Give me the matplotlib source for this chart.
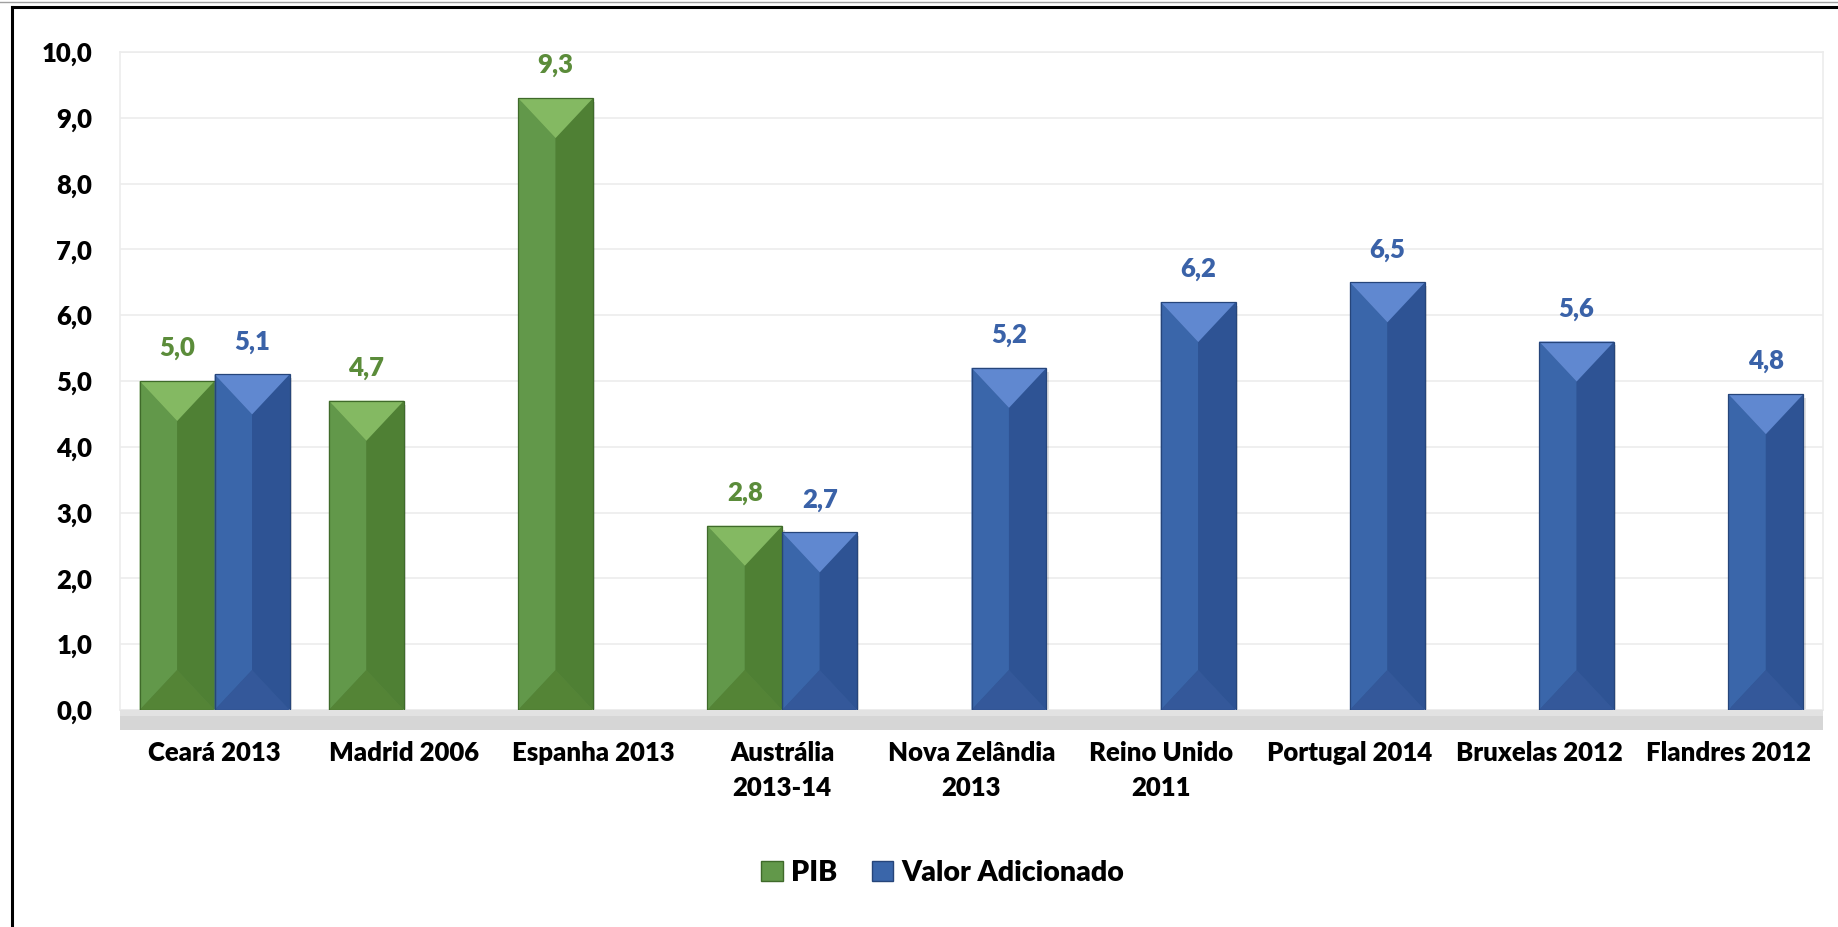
import numpy as np
import matplotlib
matplotlib.use("Agg")
import matplotlib.pyplot as plt
from matplotlib.patches import Polygon, Rectangle, Patch
from matplotlib.lines import Line2D

# dados
regioes = ["Ceará 2013", "Madrid 2006", "Espanha 2013", "Austrália\n2013-14",
           "Nova Zelândia\n2013", "Reino Unido\n2011", "Portugal 2014",
           "Bruxelas 2012", "Flandres 2012"]
pib = [5.0, 4.7, 9.3, 2.8, np.nan, np.nan, np.nan, np.nan, np.nan]
valor_adicionado = [5.1, np.nan, np.nan, 2.7, 5.2, 6.2, 6.5, 5.6, 4.8]
yticks = np.arange(0, 11, 1)

plt.rcParams['font.family'] = ['Lato', 'DejaVu Sans']
plt.rcParams['font.weight'] = 'heavy'
PESO = 'heavy'
TAM = 18.5

W, H = 1838, 927
fig = plt.figure(figsize=(W / 100, H / 100), dpi=100)
ax = fig.add_axes([120 / W, 1 - 710 / H, (1823 - 120) / W, (710 - 52) / H])
ax.set_xlim(-0.5, len(regioes) - 0.5)
ax.set_ylim(0, 10)

# cores: (lado esquerdo, lado direito, triângulo de cima, triângulo de baixo, borda)
verde = ("#62984a", "#4f8034", "#84b962", "#548436", "#3f6a2a")
azul = ("#3a66aa", "#2e5394", "#6088d0", "#34589a", "#26457a")

x = np.arange(len(regioes))
largura = 0.396
px_y = ax.bbox.height / 10.0   # pixels por unidade no eixo y


def chanfro(barras, cores):
    """Desenha o efeito de bisel em cada barra"""
    for b in barras:
        h = b.get_height()
        if not np.isfinite(h):
            continue
        x0 = b.get_x()
        x1 = x0 + b.get_width()
        xm = (x0 + x1) / 2
        d = 40 / px_y
        # sombra leve
        ax.add_patch(Rectangle((x0 + 0.012, -0.06), x1 - x0, h, fc="#000000",
                               alpha=0.12, ec='none', zorder=2, clip_on=False))
        ax.add_patch(Polygon([(x0, 0), (x0, h), (xm, h - d), (xm, d)],
                             closed=True, fc=cores[0], ec='none', zorder=3))
        ax.add_patch(Polygon([(x1, 0), (x1, h), (xm, h - d), (xm, d)],
                             closed=True, fc=cores[1], ec='none', zorder=3))
        ax.add_patch(Polygon([(x0, h), (x1, h), (xm, h - d)],
                             closed=True, fc=cores[2], ec='none', zorder=3))
        ax.add_patch(Polygon([(x0, 0), (x1, 0), (xm, d)],
                             closed=True, fc=cores[3], ec='none', zorder=3))
        ax.add_patch(Rectangle((x0, 0), x1 - x0, h, fc='none', ec=cores[4],
                               lw=0.9, zorder=4))


b1 = ax.bar(x - largura / 2, pib, largura, color=verde[0], zorder=2)
b2 = ax.bar(x + largura / 2, valor_adicionado, largura, color=azul[0], zorder=2)
chanfro(b1, verde)
chanfro(b2, azul)

for barras, cor in ((b1, "#5b8c3a"), (b2, "#3a62a8")):
    for b in barras:
        h = b.get_height()
        if not np.isfinite(h):
            continue
        ax.annotate(f"{h:.1f}".replace(".", ","), (b.get_x() + b.get_width() / 2, h),
                    xytext=(0, 18), textcoords="offset points", ha="center",
                    va="baseline", fontsize=TAM, fontweight=PESO, color=cor)

ax.set_yticks(yticks)
ax.set_yticklabels([f"{v:.1f}".replace(".", ",") for v in yticks])
ax.set_xticks(x)
ax.set_xticklabels(regioes, linespacing=1.55)
ax.tick_params(axis='y', length=0, pad=20, labelsize=TAM)
ax.tick_params(axis='x', length=0, pad=22, labelsize=TAM)
ax.grid(axis='y', color="#ececec", lw=1.2, zorder=0)
for s in ax.spines.values():
    s.set_color("#ececec")
    s.set_linewidth(1.2)

# "chão" cinza do gráfico 3D
fig.patches.append(Rectangle((120 / W, 1 - 730 / H), (1823 - 120) / W, 20 / H,
                             transform=fig.transFigure, fc="#d6d6d6", ec='none'))
fig.patches.append(Rectangle((120 / W, 1 - 716 / H), (1823 - 120) / W, 6 / H,
                             transform=fig.transFigure, fc="#e2e2e2", ec='none'))

handles = [Patch(fc=verde[0], ec=verde[4]), Patch(fc=azul[0], ec=azul[4])]
fig.legend(handles, ["PIB", "Valor Adicionado"], loc="center",
           bbox_to_anchor=(943 / W, 1 - 873 / H), ncol=2, frameon=False,
           fontsize=20.5, handlelength=0.75, handleheight=0.75, handletextpad=0.3,
           columnspacing=1.2)

# moldura
fig.add_artist(Line2D([11.5 / W, 11.5 / W], [0, 1 - 6.5 / H], color="black", lw=2.2))
fig.add_artist(Line2D([11.5 / W, 1], [1 - 6.5 / H, 1 - 6.5 / H], color="black", lw=2.2))
fig.add_artist(Line2D([0, 1], [1 - 1.5 / H, 1 - 1.5 / H], color="#a0a0a0", lw=1))

fig.savefig("out.png", dpi=100)
